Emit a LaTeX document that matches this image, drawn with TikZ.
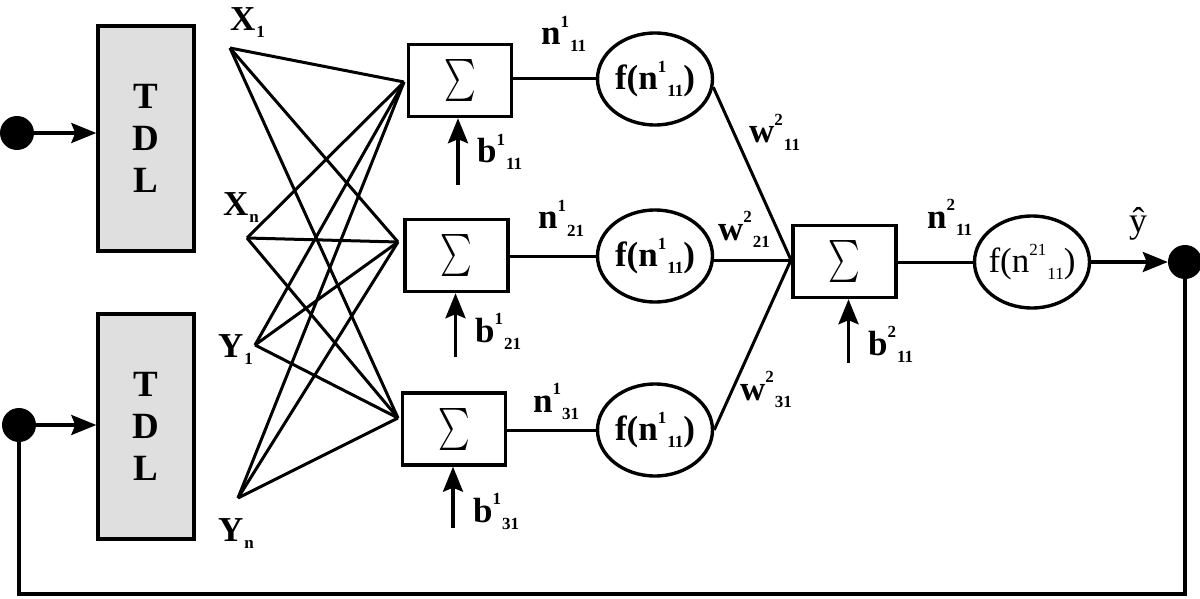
\documentclass[tikz,border=0pt]{standalone}
\usepackage{fontspec}
\usepackage{graphicx}
\setmainfont{Liberation Serif}
\usetikzlibrary{shapes.geometric,arrows.meta}
\newcommand\smallfs{\fontsize{17}{17}\selectfont}
\newcommand\supsub[2]{\raisebox{.5em}{\smallfs #1}\kern1pt\raisebox{-.2em}{\smallfs #2}}
\newcommand\subonly[1]{\kern1pt\raisebox{-.2em}{\smallfs #1}}
\newcommand\bigsum{\scalebox{3}[4.2]{$\sum$}}
\begin{document}
\begin{tikzpicture}[x=1pt,y=-1pt,
  font=\fontsize{35}{40}\selectfont\bfseries,
  tdlbox/.style={draw,line width=3.4pt,fill=gray!25,minimum width=96pt,minimum height=225pt,align=center,inner sep=0pt,font=\fontsize{37}{42}\selectfont\bfseries},
  dotnode/.style={circle,fill=black,minimum size=34pt,inner sep=0pt},
  sumbox/.style={draw,line width=3.4pt,minimum width=103pt,minimum height=72pt,inner sep=0pt,font=\normalfont},
  neuron/.style={ellipse,draw,line width=3.4pt,minimum width=115pt,minimum height=92pt,inner sep=-12pt},
  wire/.style={line width=3pt},
  arr/.style={line width=3.4pt,-{Stealth[length=25pt,width=20pt,inset=4pt]}},
  lbl/.style={anchor=base west,inner sep=0pt}]
\useasboundingbox (0,0) rectangle (1200,599);

% input dots and TDL boxes
\node[dotnode] (dot1) at (17,133) {};
\node[dotnode] (dot2) at (19,425) {};
\node[tdlbox] (tdl1) at (146,138.5) {T\\D\\L};
\node[tdlbox] (tdl2) at (146,426.5) {T\\D\\L};
\draw[arr] (dot1) -- (tdl1.west |- dot1);
\draw[arr] (dot2) -- (tdl2.west |- dot2);

% input labels
\node[lbl] (lx1) at (230,31) {X\subonly{1}};
\node[lbl] (lxn) at (223,215) {X\subonly{n}};
\node[lbl] (ly1) at (218,357) {Y\subonly{1}};
\node[lbl] (lyn) at (218,541) {Y\subonly{n}};

% input points
\coordinate (pX1) at (230,48);
\coordinate (pXn) at (247,238);
\coordinate (pY1) at (255,345);
\coordinate (pYn) at (238,498);

% layer 1 sum boxes
\node[sumbox] (s1) at (460,80.5) {\bigsum};
\node[sumbox] (s2) at (456.5,255.5) {\bigsum};
\node[sumbox] (s3) at (454,429) {\bigsum};
\coordinate (c1) at (404,82);
\coordinate (c2) at (398,242);
\coordinate (c3) at (398,418);

\foreach \p in {pX1,pXn,pY1,pYn}{
  \foreach \c in {c1,c2,c3}{
    \draw[wire] (\p) -- (\c);
  }
}

% layer 1 neurons
\node[neuron] (e1) at (655,79) {f(n\supsub{1}{11})};
\node[neuron] (e2) at (655,256) {f(n\supsub{1}{11})};
\node[neuron] (e3) at (655,430) {f(n\supsub{1}{11})};
\draw[wire] (s1.east |- e1) -- (e1.west);
\draw[wire] (s2.east |- e2) -- (e2.west);
\draw[wire] (s3.east |- e3) -- (e3.west);

\node[lbl] (ln1) at (541,45) {n\supsub{1}{11}};
\node[lbl] (ln2) at (538,229) {n\supsub{1}{21}};
\node[lbl] (ln3) at (533,412) {n\supsub{1}{31}};

% biases layer 1
\path (s1.south) ++(-2,67) coordinate (bb1);
\path (s2.south) ++(-1,64) coordinate (bb2);
\path (s3.south) ++(-1,61) coordinate (bb3);
\draw[arr] (bb1) -- (bb1 |- s1.south);
\draw[arr] (bb2) -- (bb2 |- s2.south);
\draw[arr] (bb3) -- (bb3 |- s3.south);
\node[lbl] (lb1) at (477,163) {b\supsub{1}{11}};
\node[lbl] (lb2) at (475,342) {b\supsub{1}{21}};
\node[lbl] (lb3) at (473,522) {b\supsub{1}{31}};

% layer 2
\node[sumbox] (s4) at (844.5,261.5) {\bigsum};
\coordinate (c4) at (791,260);
\draw[wire] (e1.-8) -- (c4);
\draw[wire] (e2.east |- c4) -- (c4);
\draw[wire] (e3.east) -- (c4);
\node[lbl] (lw1) at (749,143) {w\supsub{2}{11}};
\node[lbl] (lw2) at (718,240) {w\supsub{2}{21}};
\node[lbl] (lw3) at (740,400) {w\supsub{2}{31}};

\path (s4.south) ++(4,64) coordinate (bb4);
\draw[arr] (bb4) -- (bb4 |- s4.south);
\node[lbl] (lb4) at (868,355) {b\supsub{2}{11}};

\node[neuron] (e4) at (1032,262) {\normalfont f(n\supsub{21}{11})};
\draw[wire] (s4.east |- e4) -- (e4.west);
\node[lbl] (ln4) at (927,228) {n\supsub{2}{11}};

% output
\node[dotnode] (dot3) at (1185,262) {};
\draw[arr] (e4.east) -- (dot3);
\node (yhat) at (1138,224) {\normalfont\fontsize{36}{36}\selectfont\^{y}};

% feedback
\coordinate (fbR) at (1185,594);
\draw[line width=3.6pt] (dot3) -- (fbR) -| (dot2);
\end{tikzpicture}
\end{document}
